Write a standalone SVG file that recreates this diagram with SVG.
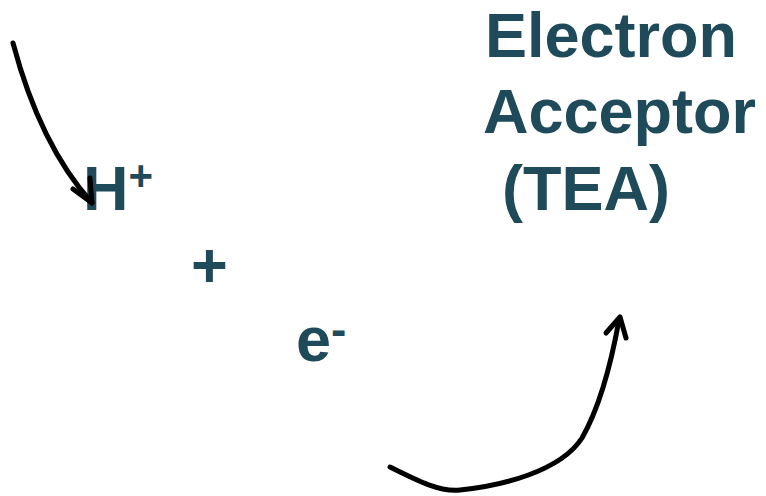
<svg xmlns="http://www.w3.org/2000/svg" width="766" height="496" viewBox="0 0 766 496">
<style>
.t{font-family:"Liberation Sans",Arial,sans-serif;font-weight:bold;fill:#1F4A5A;font-size:63px}
.c{fill:none;stroke:#000;stroke-width:5;stroke-linecap:round;stroke-linejoin:round}
</style>
<rect width="766" height="496" fill="#fff"/>
<g id="tea">
<text class="t" x="485" y="57">Electron</text>
<text class="t" x="483" y="133">Acceptor</text>
<text class="t" x="502" y="210">(TEA)</text>
</g>
<g id="hplus">
<text class="t" x="83" y="210">H<tspan font-size="42" dy="-20">+</tspan></text>
</g>
<g id="plus">
<text class="t" x="191" y="287">+</text>
</g>
<g id="electron">
<text class="t" x="296" y="361">e<tspan font-size="46" dy="-16">-</tspan></text>
</g>
<g id="connectors">
<path class="c" d="M13,43 Q40,145 92,203"/>
<path class="c" d="M73,189 L92,203 L90,178"/>
<path class="c" d="M390,467 C420,482 440,492 460,490 C500,486 560,472 582,438 C598,410 610,370 619,320"/>
<path class="c" d="M606,333 L620,317 L626,338"/>
</g>
</svg>
